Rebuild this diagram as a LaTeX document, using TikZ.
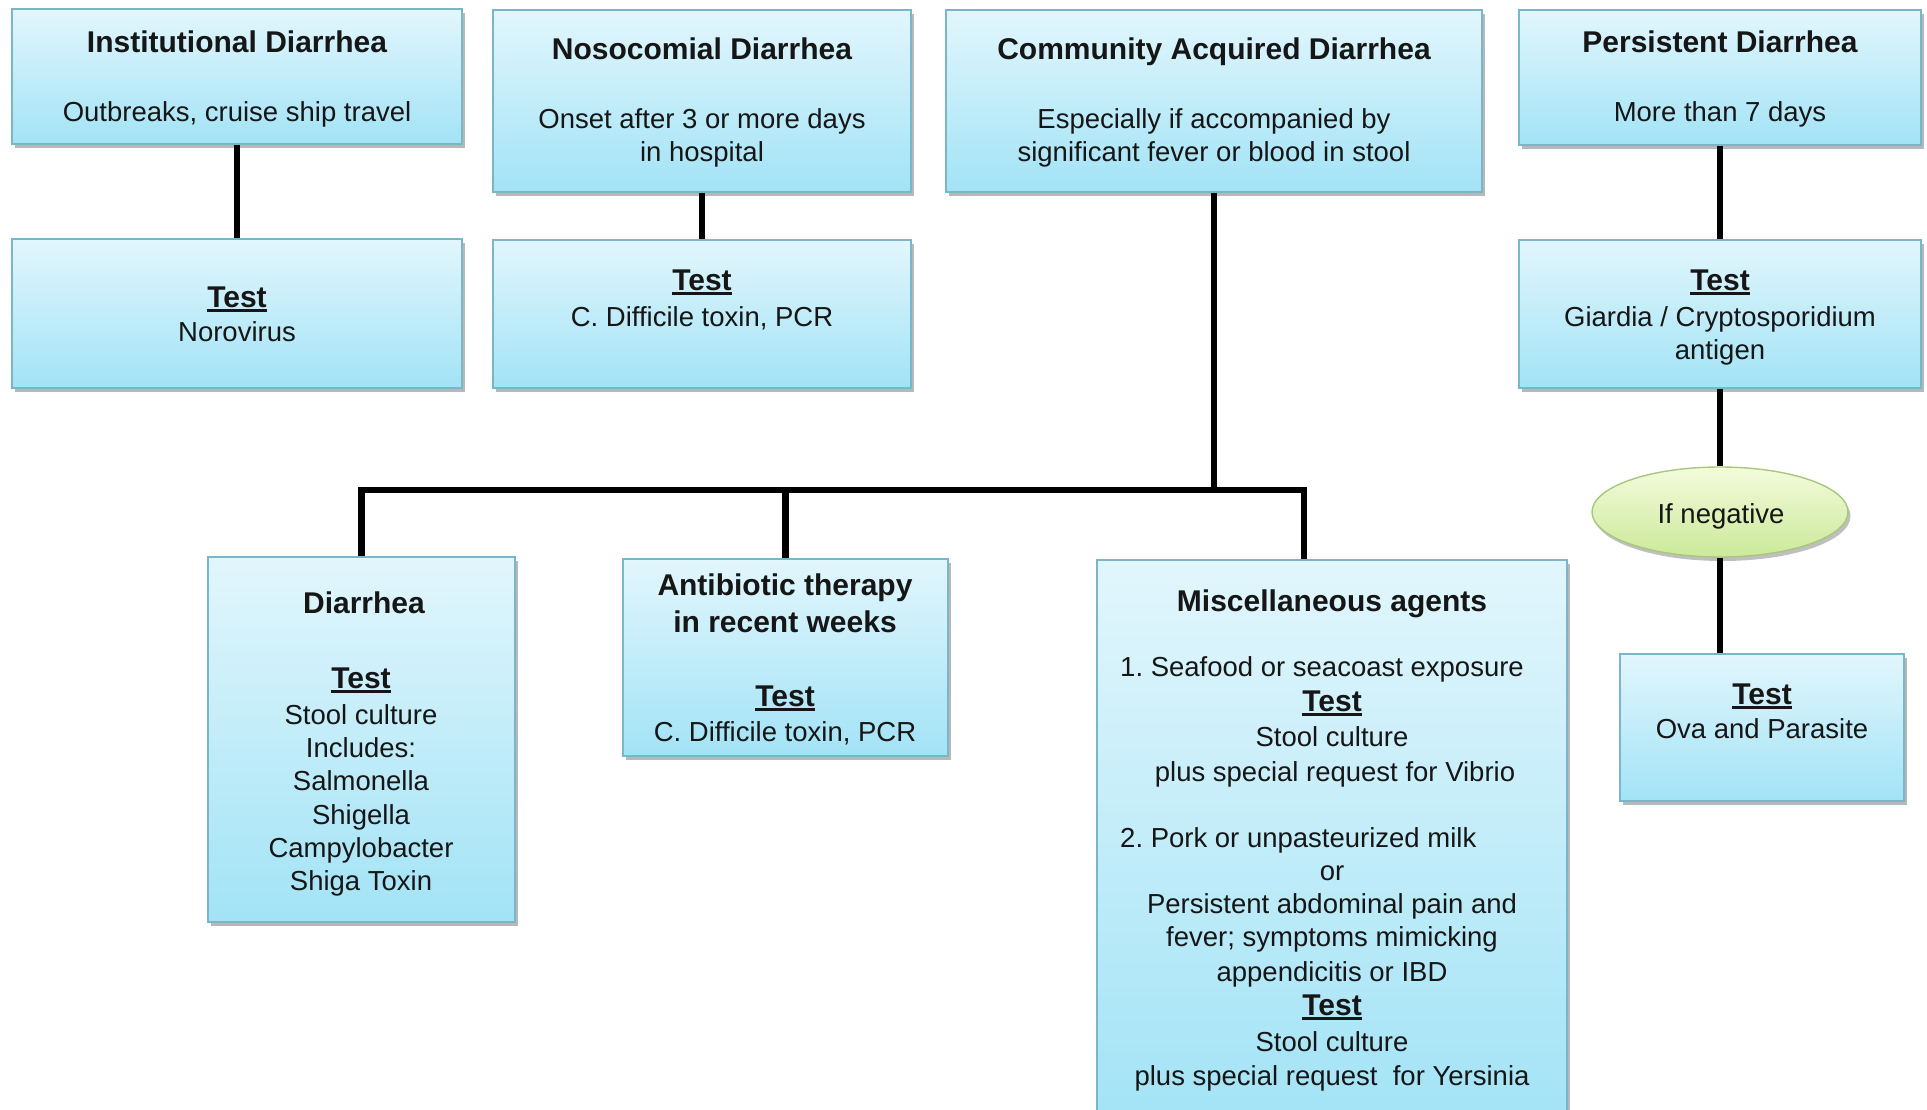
\documentclass[tikz,border=0pt]{standalone}
\usepackage{fontspec}
\setmainfont{Liberation Sans}
\usetikzlibrary{shadows,shapes.geometric}

\definecolor{boxtop}{HTML}{E2F6FC}
\definecolor{boxbot}{HTML}{A2E3F6}
\definecolor{boxline}{HTML}{7AB6C6}
\definecolor{elltop}{HTML}{F4FBDC}
\definecolor{ellbot}{HTML}{CBE99A}
\definecolor{ellline}{HTML}{A6C77C}
\definecolor{ink}{HTML}{161616}

\pgfdeclarelayer{links}
\pgfsetlayers{links,main}

% underlined bold "Test" heading
\newcommand\testword{\setbox0\hbox{\bfseries Test}\rlap{\rule[-4.5pt]{\wd0}{2.3pt}}\box0}
% one line of text, placed by its baseline
\newcommand\txtline[4][]{\node[textline,#1] (#2) at (#3) {#4};}

\tikzset{
  stepbox/.style={rectangle, draw=boxline, line width=1.4pt,
    top color=boxtop, bottom color=boxbot, inner sep=0pt,
    drop shadow={shadow xshift=2.5pt, shadow yshift=-4pt, opacity=0.28, fill=black}},
  condbox/.style={ellipse, draw=ellline, line width=1.4pt,
    top color=elltop, bottom color=ellbot, inner sep=0pt,
    drop shadow={shadow xshift=2.5pt, shadow yshift=-4pt, opacity=0.25, fill=black}},
  textline/.style={anchor=base, inner sep=0pt, text=ink,
    font=\fontsize{27.5}{33}\selectfont},
  head/.style={font=\fontsize{30}{37}\selectfont\bfseries},
  link/.style={draw=black, line width=6.5pt},
}

\begin{document}
\begin{tikzpicture}[x=1pt, y=-1pt]
\useasboundingbox (0,0) rectangle (1927,1110);

% ---- top row: settings ----
\node[stepbox, minimum width=450pt, minimum height=135pt] (inst) at (237,76.5) {};
\node[stepbox, minimum width=418pt, minimum height=182pt] (noso) at (702,101) {};
\node[stepbox, minimum width=536pt, minimum height=182pt] (comm) at (1214,101) {};
\node[stepbox, minimum width=402pt, minimum height=135pt] (pers) at (1720,77.5) {};

% ---- second row: tests ----
\node[stepbox, minimum width=450pt, minimum height=149pt] (noro) at (237,313.5) {};
\node[stepbox, minimum width=418pt, minimum height=148pt] (cdiff) at (702,314) {};
\node[stepbox, minimum width=402pt, minimum height=148pt] (giar) at (1720,314) {};

% ---- persistent branch ----
\node[condbox, minimum width=256pt, minimum height=90pt] (ifneg) at (1720,512) {};
\node[stepbox, minimum width=284pt, minimum height=147pt] (ova) at (1762,727.5) {};

% ---- community acquired branches ----
\node[stepbox, minimum width=307pt, minimum height=365pt] (diar) at (361.5,739.5) {};
\node[stepbox, minimum width=325pt, minimum height=197pt] (anti) at (785.5,657.5) {};
\node[stepbox, minimum width=470pt, minimum height=565pt] (misc) at (1332,842.5) {};

% ---- connectors ----
\coordinate (busL) at (361.5,490);
\coordinate (busR) at (1304,490);
\begin{pgfonlayer}{links}
  \draw[link] (inst.south) -- (noro.north);
  \draw[link] (noso.south) -- (cdiff.north);
  \draw[link] (pers.south) -- (giar.north);
  \draw[link] (giar.south) -- (giar.south |- ifneg.north);
  \draw[link] (ifneg.south) -- (ifneg.south |- ova.north);
  \draw[link] (comm.south) -- (comm.south |- busL);
  \draw[link] (diar.north) -- (diar.north |- busL) -- (busR) -- (busR |- misc.north);
  \draw[link] (anti.north) -- (anti.north |- busL);
\end{pgfonlayer}

% ---- texts ----
\txtline[head]{inst-t}{237,53}{Institutional Diarrhea}
\txtline{inst-b}{237,122}{Outbreaks, cruise ship travel}
\txtline[head]{noro-t}{237,307}{\testword}
\txtline{noro-b}{237,341}{Norovirus}

\txtline[head]{noso-t}{702,60}{Nosocomial Diarrhea}
\txtline{noso-b1}{702,129}{Onset after 3 or more days}
\txtline{noso-b2}{702,162}{in hospital}
\txtline[head]{cdiff-t}{702,290}{\testword}
\txtline{cdiff-b}{702,326}{C.\ Difficile toxin, PCR}

\txtline[head]{comm-t}{1214,60}{Community Acquired Diarrhea}
\txtline{comm-b1}{1214,129}{Especially if accompanied by}
\txtline{comm-b2}{1214,162}{significant fever or blood in stool}

\txtline[head]{pers-t}{1720,53}{Persistent Diarrhea}
\txtline{pers-b}{1720,122}{More than 7 days}
\txtline[head]{giar-t}{1720,290}{\testword}
\txtline{giar-b1}{1720,326}{Giardia / Cryptosporidium}
\txtline{giar-b2}{1720,359}{antigen}

\txtline{ifneg-t}{1721,523}{If negative}
\txtline[head]{ova-t}{1762,704}{\testword}
\txtline{ova-b}{1762,738}{Ova and Parasite}

\txtline[head]{diar-t}{364,613}{Diarrhea}
\txtline[head]{diar-test}{361,688}{\testword}
\txtline{diar-b1}{361,724}{Stool culture}
\txtline{diar-b2}{361,757}{Includes:}
\txtline{diar-b3}{361,790}{Salmonella}
\txtline{diar-b4}{361,824}{Shigella}
\txtline{diar-b5}{361,857}{Campylobacter}
\txtline{diar-b6}{361,890}{Shiga Toxin}

\txtline[head]{anti-t1}{785,595}{Antibiotic therapy}
\txtline[head]{anti-t2}{785,632}{in recent weeks}
\txtline[head]{anti-test}{785,706}{\testword}
\txtline{anti-b}{785,741}{C.\ Difficile toxin, PCR}

\txtline[head]{misc-t}{1332,611}{Miscellaneous agents}
\txtline[anchor=base west]{misc-a}{1120,676}{1.\ Seafood or seacoast exposure}
\txtline[head]{misc-a-test}{1332,711}{\testword}
\txtline{misc-a1}{1332,746}{Stool culture}
\txtline{misc-a2}{1335,781}{plus special request for Vibrio}
\txtline[anchor=base west]{misc-b}{1120,847}{2.\ Pork or unpasteurized milk}
\txtline{misc-b1}{1332,880}{or}
\txtline{misc-b2}{1332,913}{Persistent abdominal pain and}
\txtline{misc-b3}{1332,946}{fever; symptoms mimicking}
\txtline{misc-b4}{1332,981}{appendicitis or IBD}
\txtline[head]{misc-b-test}{1332,1015}{\testword}
\txtline{misc-b5}{1332,1051}{Stool culture}
\txtline{misc-b6}{1332,1085}{plus special request\ \ for Yersinia}
\end{tikzpicture}
\end{document}
